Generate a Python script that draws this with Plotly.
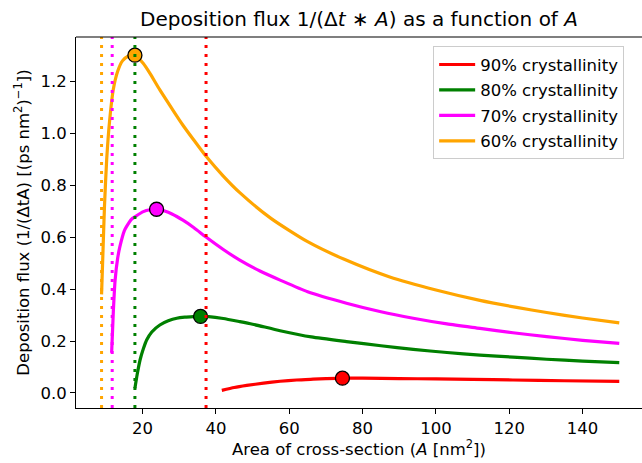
import plotly.graph_objects as go

# ---------------- data ----------------
labels = ["90% crystallinity", "80% crystallinity", "70% crystallinity", "60% crystallinity"]
colors = ["#ff0000", "#008000", "#ff00ff", "#ffa500"]

# vertical dotted reference lines (area, nm^2)
threshold_areas = [37.3, 17.9, 11.7, 8.8]

area_90 = [41.6, 45.0, 48.4, 53.0, 57.5, 62.0, 66.5, 70.0, 74.5, 80.0, 90.0, 100.0, 110.0, 121.0, 135.0, 150.0]
flux_90 = [0.010, 0.021, 0.029, 0.038, 0.045, 0.050, 0.053, 0.055, 0.057, 0.0568, 0.0555, 0.054, 0.052, 0.050, 0.047, 0.045]

area_80 = [17.9, 18.5, 19.3, 20.2, 21.1, 22.5, 24.7, 27.0, 29.3, 31.5, 33.8, 35.8, 38.0, 42.0, 46.5, 50.0,
           57.5, 66.0, 75.6, 85.0, 93.8, 103.0, 112.0, 121.0, 130.2, 140.0, 150.0]
flux_80 = [0.018, 0.070, 0.127, 0.170, 0.204, 0.235, 0.262, 0.278, 0.288, 0.292, 0.294, 0.295, 0.294, 0.287, 0.275, 0.265,
           0.240, 0.216, 0.198, 0.182, 0.168, 0.156, 0.146, 0.138, 0.130, 0.123, 0.117]

area_70 = [11.55, 12.0, 12.5, 13.2, 13.8, 15.0, 15.6, 17.0, 17.9, 20.2, 22.0, 23.8, 26.0, 28.0, 31.0, 34.0, 37.2,
           42.0, 46.5, 52.0, 57.5, 65.0, 75.6, 85.0, 93.8, 103.0, 112.0, 121.0, 130.2, 140.0, 150.0]
flux_70 = [0.155, 0.310, 0.435, 0.520, 0.564, 0.625, 0.641, 0.670, 0.679, 0.699, 0.706, 0.708, 0.701, 0.690, 0.666, 0.637, 0.602,
           0.553, 0.512, 0.470, 0.435, 0.390, 0.346, 0.313, 0.288, 0.266, 0.249, 0.232, 0.217, 0.203, 0.191]

area_60 = [8.8, 9.2, 9.6, 10.2, 11.0, 12.0, 13.2, 14.5, 16.0, 17.9, 20.2, 22.0, 24.7, 28.0, 31.0, 34.0, 37.3, 42.0,
           46.5, 55.0, 65.0, 75.0, 87.4, 100.0, 112.0, 122.0, 130.2, 140.0, 150.0]
flux_60 = [0.380, 0.550, 0.720, 0.900, 1.050, 1.170, 1.240, 1.280, 1.298, 1.302, 1.270, 1.232, 1.168, 1.096, 1.032, 0.974, 0.912, 0.836,
           0.772, 0.673, 0.583, 0.515, 0.447, 0.397, 0.357, 0.330, 0.310, 0.289, 0.270]

areas = [area_90, area_80, area_70, area_60]
fluxes = [flux_90, flux_80, flux_70, flux_60]

# ---------------- figure ----------------
FONT = "DejaVu Sans, Liberation Sans, sans-serif"
FS = 16.5
fig = go.Figure()

for i, (a, f) in enumerate(zip(areas, fluxes)):
    fig.add_trace(go.Scatter(
        x=a, y=f, mode="lines", name=labels[i], legendgroup=labels[i],
        line=dict(color=colors[i], width=3.2, shape="spline", smoothing=0.6),
    ))

for i, (a, f) in enumerate(zip(areas, fluxes)):
    k = max(range(len(f)), key=lambda j: f[j])
    fig.add_trace(go.Scatter(
        x=[a[k]], y=[f[k]], mode="markers", showlegend=False,
        marker=dict(color=colors[i], size=14, line=dict(color="black", width=1.3)),
    ))

for i, xa in enumerate(threshold_areas):
    fig.add_shape(type="line", xref="x", yref="paper", x0=xa, x1=xa, y0=0, y1=1,
                  line=dict(color=colors[i], width=3, dash="3px,6px"), layer="above")

# top spine
fig.add_shape(type="line", xref="paper", yref="paper", x0=0, x1=1, y0=1, y1=1,
              line=dict(color="black", width=1.1), layer="above")

# x-axis label
fig.add_annotation(text="Area of cross-section (<i>A</i> [nm<sup>2</sup>])",
                   xref="paper", yref="paper", x=0.5, y=0, xanchor="center", yanchor="middle",
                   yshift=-40, showarrow=False, font=dict(family=FONT, size=FS, color="black"))

axis_common = dict(
    showgrid=False, zeroline=False, showline=True, linecolor="black", linewidth=1.1,
    ticks="outside", ticklen=5, tickwidth=1.1, tickcolor="black",
    tickfont=dict(family=FONT, size=FS, color="black"),
)

fig.update_layout(
    width=642, height=463,
    margin=dict(l=76, r=0, t=37, b=55),
    paper_bgcolor="white", plot_bgcolor="white",
    font=dict(family=FONT, size=FS, color="black"),
    title=dict(text="Deposition flux 1/(Δ<i>t</i> ∗ <i>A</i>) as a function of <i>A</i>",
               x=0.5, xref="paper", xanchor="center", y=1 - 19 / 463, yanchor="middle",
               font=dict(family=FONT, size=20, color="black")),
    xaxis=dict(range=[1.83, 156.2], tickvals=[20, 40, 60, 80, 100, 120, 140], **axis_common),
    yaxis=dict(range=[-0.058, 1.372], tickvals=[0.0, 0.2, 0.4, 0.6, 0.8, 1.0, 1.2], tickformat=".1f",
               title=dict(text="Deposition flux (1/(ΔtA) [(ps nm<sup>2</sup>)<sup>−1</sup>])", standoff=6,
                          font=dict(family=FONT, size=FS)),
               **axis_common),
    legend=dict(x=0.631, y=0.975, xanchor="left", yanchor="top",
                bgcolor="rgba(255,255,255,0.8)", bordercolor="#cccccc", borderwidth=1,
                font=dict(family=FONT, size=FS, color="black"),
                itemwidth=36, tracegroupgap=1),
    showlegend=True,
)

fig.write_html("out.html", config={"displayModeBar": False},
               post_script="document.body.style.margin='0';document.body.style.overflow='hidden';")
